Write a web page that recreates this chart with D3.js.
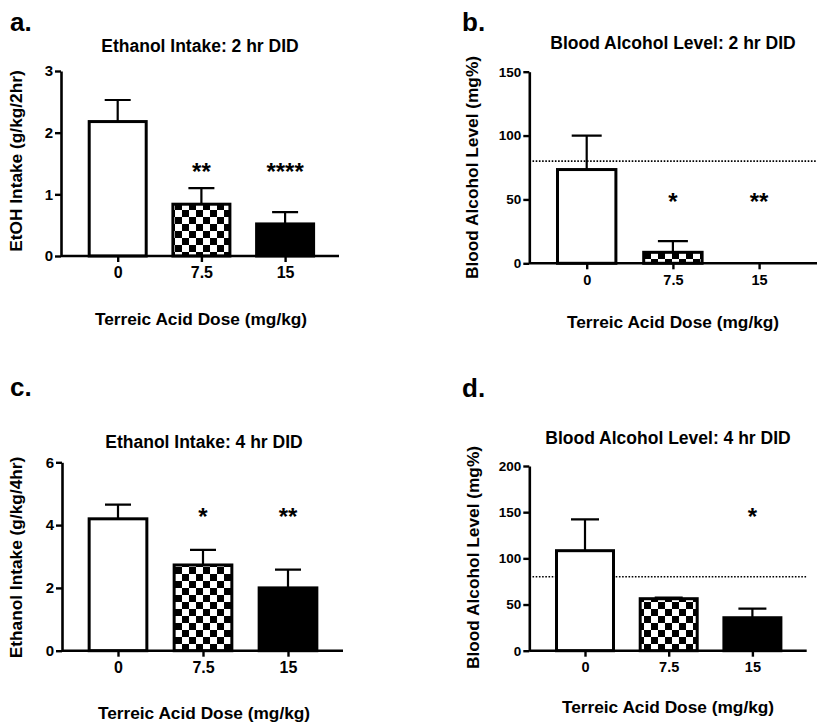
<!DOCTYPE html>
<html>
<head>
<meta charset="utf-8">
<script src="https://cdn.jsdelivr.net/npm/d3@7"></script>
<style>
  body { margin: 0; background: #fff; }
  text { font-family: "Liberation Sans", Arial, Helvetica, sans-serif; font-weight: bold; fill: #000; }
</style>
</head>
<body>
<script>
// doses (x categories) shared by all four panels
var doses = ["0", "7.5", "15"];
var barFills = ["white", "url(#checker)", "black"];

// a. ethanol intake 2 hr
var intake2hMean = [2.18, 0.84, 0.52];
var intake2hSem  = [0.35, 0.26, 0.19];
var intake2hStars = ["", "**", "****"];
var intake2hTicks = [0, 1, 2, 3];

// b. blood alcohol 2 hr
var bal2hMean = [73.4, 8.6, 0];
var bal2hSem  = [26.5, 8.8, 0];
var bal2hStars = ["", "*", "**"];
var bal2hTicks = [0, 50, 100, 150];

// c. ethanol intake 4 hr
var intake4hMean = [4.2, 2.73, 2.0];
var intake4hSem  = [0.45, 0.48, 0.58];
var intake4hStars = ["", "*", "**"];
var intake4hTicks = [0, 2, 4, 6];

// d. blood alcohol 4 hr
var bal4hMean = [108.3, 56.3, 35.7];
var bal4hSem  = [34, 1.1, 9.8];
var bal4hStars = ["", "", "*"];
var bal4hTicks = [0, 50, 100, 150, 200];

var intoxLevel = 80; // dotted reference line (mg%)

var svg = d3.select("body").append("svg").attr("width", 817).attr("height", 726);

// checkerboard fill for the 7.5 mg/kg bars
var cell = 7;
var pat = svg.append("defs").append("pattern")
    .attr("id", "checker")
    .attr("patternUnits", "userSpaceOnUse")
    .attr("width", cell * 2).attr("height", cell * 2);
pat.append("rect").attr("width", cell * 2).attr("height", cell * 2).attr("fill", "white");
pat.append("rect").attr("width", cell).attr("height", cell).attr("fill", "black");
pat.append("rect").attr("x", cell).attr("y", cell).attr("width", cell).attr("height", cell).attr("fill", "black");

var panel = function (p) {
  var g = svg.append("g");

  var y = d3.scaleLinear().domain([0, p.ticks[p.ticks.length - 1]]).range([p.bottom, p.top]);
  var x = d3.scalePoint().domain(doses)
      .range([p.left + p.off, p.left + p.off + 2 * p.step]);

  var data = doses.map(function (d, i) {
    return { dose: d, mean: p.mean[i], sem: p.sem[i], star: p.stars[i], fill: barFills[i] };
  });

  // panel letter
  g.append("text").attr("x", p.letterX).attr("y", p.letterY)
    .style("font-size", "26px").text(p.letter);

  // title
  g.append("text").attr("x", p.titleX).attr("y", p.titleY)
    .attr("text-anchor", "middle").style("font-size", "17.5px").text(p.title);

  // y label
  g.append("text")
    .attr("transform", "translate(" + p.ylabX + "," + p.ylabY + ") rotate(-90)")
    .attr("text-anchor", "middle").style("font-size", "17.3px").text(p.ylabel);

  // x label
  g.append("text").attr("x", p.titleX2).attr("y", p.xlabY)
    .attr("text-anchor", "middle").style("font-size", "17.3px").text("Terreic Acid Dose (mg/kg)");

  // dotted line (behind bars)
  if (p.refLine) {
    g.append("line")
      .attr("x1", p.left).attr("x2", p.right)
      .attr("y1", y(intoxLevel)).attr("y2", y(intoxLevel))
      .style("stroke", "black").style("stroke-width", 1.6)
      .style("stroke-dasharray", "1.6,1.6");
  }

  var bars = data.filter(function (d) { return d.mean > 0; });

  // error bars (upper only)
  g.selectAll(".err").data(bars).enter().append("path")
    .attr("class", "err")
    .attr("d", function (d) {
      var cx = x(d.dose), cw = p.cap / 2;
      return "M" + cx + "," + y(d.mean) + "V" + y(d.mean + d.sem) +
             "M" + (cx - cw) + "," + y(d.mean + d.sem) + "H" + (cx + cw);
    })
    .style("fill", "none").style("stroke", "black").style("stroke-width", 2.2);

  g.selectAll(".bar").data(bars).enter().append("rect")
    .attr("class", "bar")
    .attr("x", function (d) { return x(d.dose) - p.barW / 2; })
    .attr("y", function (d) { return y(d.mean); })
    .attr("width", p.barW)
    .attr("height", function (d) { return y(0) - y(d.mean); })
    .style("fill", function (d) { return d.fill; })
    .style("stroke", "black").style("stroke-width", 3);

  // significance stars
  g.selectAll(".star").data(data.filter(function (d) { return d.star; })).enter().append("text")
    .attr("class", "star")
    .attr("x", function (d) { return x(d.dose); })
    .attr("y", y(p.starAt) + 0.56 * 24)
    .attr("text-anchor", "middle").style("font-size", "24px")
    .text(function (d) { return d.star; });

  // axes
  var ya = g.append("g").attr("transform", "translate(" + p.left + ",0)")
    .call(d3.axisLeft(y).tickValues(p.ticks).tickFormat(d3.format("d"))
      .tickSize(6).tickSizeOuter(0).tickPadding(2));
  ya.selectAll("text").style("font-size", p.yfs + "px");

  var xa = g.append("g").attr("transform", "translate(0," + p.bottom + ")")
    .call(d3.axisBottom(x).tickSize(6).tickSizeOuter(0).tickPadding(5));
  xa.select(".domain").attr("d", "M" + p.left + ",0H" + p.right);
  xa.selectAll("text").style("font-size", p.xfs + "px");

  [ya, xa].forEach(function (a) {
    a.attr("font-family", null).attr("font-size", null);
    a.select(".domain").style("stroke-width", 2.6);
    a.selectAll(".tick line").style("stroke-width", 2.4);
  });
};

panel({ letter: "a.", letterX: 10, letterY: 31,
  title: "Ethanol Intake: 2 hr DID", titleX: 200, titleY: 52, titleX2: 201, xlabY: 325,
  ylabel: "EtOH Intake (g/kg/2hr)", ylabX: 22, ylabY: 161,
  left: 61, right: 339, top: 71, bottom: 256, off: 56.7, step: 83.7, barW: 57, cap: 26,
  mean: intake2hMean, sem: intake2hSem, stars: intake2hStars, starAt: 1.45, ticks: intake2hTicks,
  yfs: 15, xfs: 16, refLine: false });

panel({ letter: "b.", letterX: 462, letterY: 31,
  title: "Blood Alcohol Level: 2 hr DID", titleX: 673, titleY: 49, titleX2: 673, xlabY: 328,
  ylabel: "Blood Alcohol Level (mg%)", ylabX: 478, ylabY: 167.5,
  left: 529.3, right: 817, top: 71.7, bottom: 263.3, off: 57.4, step: 86.2, barW: 58.4, cap: 30,
  mean: bal2hMean, sem: bal2hSem, stars: bal2hStars, starAt: 52.6, ticks: bal2hTicks,
  yfs: 13.5, xfs: 14.5, refLine: true });

panel({ letter: "c.", letterX: 10, letterY: 396,
  title: "Ethanol Intake: 4 hr DID", titleX: 204, titleY: 448, titleX2: 204, xlabY: 719,
  ylabel: "Ethanol Intake (g/kg/4hr)", ylabX: 22, ylabY: 557.5,
  left: 62, right: 343, top: 462.3, bottom: 650.7, off: 56, step: 85, barW: 57.7, cap: 26,
  mean: intake4hMean, sem: intake4hSem, stars: intake4hStars, starAt: 4.44, ticks: intake4hTicks,
  yfs: 15, xfs: 16, refLine: false });

panel({ letter: "d.", letterX: 462, letterY: 396.5,
  title: "Blood Alcohol Level: 4 hr DID", titleX: 668, titleY: 443.5, titleX2: 668, xlabY: 712.5,
  ylabel: "Blood Alcohol Level (mg%)", ylabX: 479, ylabY: 557.5,
  left: 529.3, right: 806.7, top: 466, bottom: 650.7, off: 55.7, step: 83.7, barW: 57, cap: 28,
  mean: bal4hMean, sem: bal4hSem, stars: bal4hStars, starAt: 151, ticks: bal4hTicks,
  yfs: 13.5, xfs: 14.5, refLine: true });
</script>
</body>
</html>
